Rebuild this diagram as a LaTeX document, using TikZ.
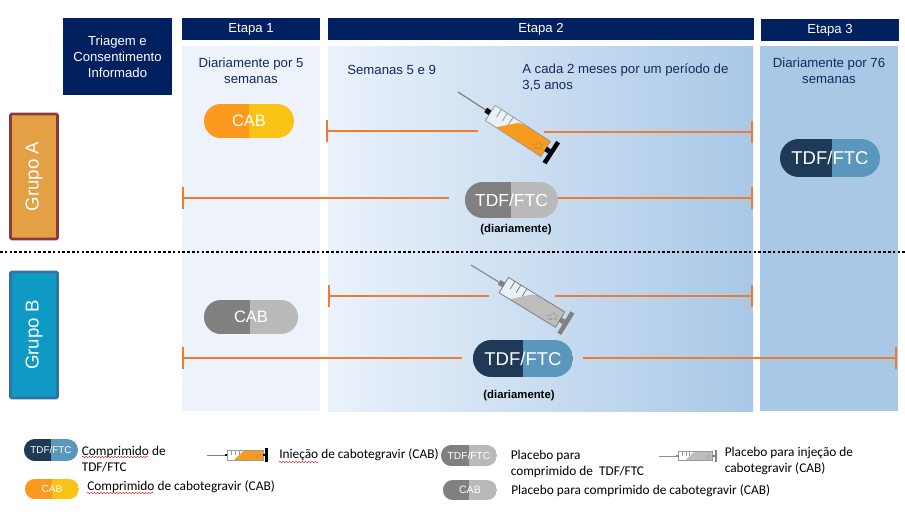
\documentclass[tikz,border=0pt]{standalone}
\usepackage{fontspec}
\setmainfont{Liberation Sans}
\newfontfamily\legfont{Carlito}
\usetikzlibrary{shapes.misc,arrows.meta,decorations.pathmorphing}
\definecolor{navy}{HTML}{002060}
\definecolor{txtnavy}{HTML}{14295F}
\definecolor{orangeline}{HTML}{ED7D31}
\definecolor{tdfdark}{HTML}{1F3A57}
\definecolor{tdflight}{HTML}{5B97BD}
\definecolor{cabdark}{HTML}{FB9A1F}
\definecolor{cablight}{HTML}{F8C315}
\definecolor{greydark}{HTML}{808080}
\definecolor{greylight}{HTML}{B9B9B9}
\definecolor{syrorange}{HTML}{F79A1E}
\definecolor{syrgrey}{HTML}{BDBDBD}
\definecolor{panelone}{HTML}{EEF3FB}
\definecolor{panelleft}{HTML}{EBF2FB}
\definecolor{panelright}{HTML}{A9C8E6}
\definecolor{grpaedge}{HTML}{8B3A3A}
\definecolor{grpafill}{HTML}{E3A045}
\definecolor{grpbedge}{HTML}{2E75A6}
\definecolor{grpbfill}{HTML}{0F9AC6}
\definecolor{edgeA}{HTML}{9A9A9A}
\definecolor{edgeB}{HTML}{7F7F7F}
\definecolor{needleA}{HTML}{808080}
\definecolor{needleB}{HTML}{8C8C8C}
\tikzset{
  hdr/.style={fill=navy,text=white,align=center,font=\fontsize{9.85}{12}\selectfont,inner sep=0pt},
  lbl/.style={text=txtnavy,align=center,font=\fontsize{9.9}{12}\selectfont,inner sep=0pt},
  lbll/.style={lbl,align=left,anchor=west},
  pill/.style n args={3}{rounded rectangle,inner sep=0pt,text=white,
    path picture={
      \fill[#2] (path picture bounding box.south west) rectangle (path picture bounding box.north east);
      \fill[#1] (path picture bounding box.south west) rectangle ([xshift=#3*0.75pt]path picture bounding box.north);
    }},
  grp/.style={line width=2.2pt,rounded corners=1pt,text=white,font=\fontsize{14}{16}\selectfont,inner sep=0pt},
  tl/.style={orangeline,line width=1.25pt},
  tlb/.style={tl,{Bar[width=16.5pt,line width=1.25pt]}-},
  tle/.style={tl,-{Bar[width=16.5pt,line width=1.25pt]}},
  leg/.style={font=\legfont\fontsize{10}{12}\selectfont,anchor=west,align=left,inner sep=0pt},
  dia/.style={font=\bfseries\fontsize{8.5}{10}\selectfont,inner sep=0pt},
  squig/.style={red!80!black,line width=.3pt,decorate,decoration={snake,amplitude=.45pt,segment length=2.4pt}},
}
% tip x, tip y, angle, scale, liquid, dark part, barrel edge, needle
\newcommand{\syr}[8]{%
\begin{scope}[shift={(#1,#2)},rotate=-#3,x=#4*0.75pt,y=-#4*0.75pt]
  \draw[#8,line width=#4*0.9pt] (0,0) -- (33,0);
  \fill[#6] (33,-2.6) rectangle (38.5,2.6);
  \fill[white,opacity=.55] (38.5,-9) rectangle (104.5,9);
  \fill[#5] (51,9) -- (67,-6.5) -- (73,-9) -- (104.5,-9) -- (104.5,9) -- cycle;
  \draw[#7,line width=#4*0.6pt] (38.5,-9) rectangle (104.5,9);
  \foreach \u in {46,53,60} \draw[#7,line width=#4*0.6pt] (\u,-9) -- (\u,0);
  \foreach \u/\v in {94/1,97/4,99/-1,95/5,100/2,92/3,96/-2} \fill[gray] (\u,\v) circle[radius=.8];
  \fill[#6] (104.5,-2.5) rectangle (109,2.5);
  \fill[#6] (109,-12.5) rectangle (113.5,12.5);
\end{scope}}
\begin{document}
\begin{tikzpicture}[x=0.75pt,y=-0.75pt]
\useasboundingbox (0,0) rectangle (905,514);
\fill[white] (0,0) rectangle (905,514);
% panels
\fill[panelone] (182,46) rectangle (320,411);
\shade[left color=panelleft,right color=panelright] (328,46) rectangle (753,411);
\fill[panelright] (760,46) rectangle (898,411);
% headers
\node[hdr,minimum width=109*0.75pt,minimum height=77*0.75pt,font=\fontsize{9.85}{12}\selectfont] (triagem) at (117.5,56.5) {Triagem e\\Consentimento\\Informado};
\node[hdr,minimum width=138*0.75pt,minimum height=22*0.75pt] (et1) at (251,29) {Etapa 1};
\node[hdr,minimum width=426*0.75pt,minimum height=22*0.75pt] (et2) at (541,29) {Etapa 2};
\node[hdr,minimum width=138*0.75pt,minimum height=22*0.75pt] (et3) at (830,30) {Etapa 3};
% labels
\node[lbl] (l1) at (251,71) {Diariamente por 5\\semanas};
\node[lbll] (l2) at (347,70) {Semanas 5 e 9};
\node[lbll] (l3) at (522,77) {A cada 2 meses por um período de\\3,5 anos};
\node[lbl] (l4) at (829,71) {Diariamente por 76\\semanas};
% groups
\node[grp,draw=grpaedge,fill=grpafill,minimum width=47*0.75pt,minimum height=125*0.75pt] (ga) at (34,176.5) {\rotatebox{90}{Grupo A}};
\node[grp,draw=grpbedge,fill=grpbfill,minimum width=47*0.75pt,minimum height=126*0.75pt] (gb) at (34,335) {\rotatebox{90}{Grupo B}};
% divider
\coordinate (dl) at (0,252); \coordinate (dr) at (905,252);
\draw[black,line width=.9pt,dash pattern=on 2pt off 1.6pt] (dl) -- (dr);
% pills
\node[pill={cabdark}{cablight}{-0.5},minimum width=90*0.75pt,minimum height=34*0.75pt,font=\fontsize{12.4}{14}\selectfont] (p1) at (249,121) {CAB};
\node[pill={greydark}{greylight}{-1},minimum width=93*0.75pt,minimum height=36*0.75pt,font=\fontsize{13.1}{15}\selectfont] (p2) at (511.5,200) {TDF/FTC};
\node[pill={tdfdark}{tdflight}{2},minimum width=100*0.75pt,minimum height=38*0.75pt,font=\fontsize{13.9}{15}\selectfont] (p3) at (830,158) {TDF/FTC};
\node[pill={greydark}{greylight}{-1},minimum width=94*0.75pt,minimum height=34*0.75pt,font=\fontsize{12.4}{14}\selectfont] (p4) at (251,317) {CAB};
\node[pill={tdfdark}{tdflight}{0},minimum width=100*0.75pt,minimum height=37*0.75pt,font=\fontsize{13.9}{15}\selectfont] (p5) at (523,358.5) {TDF/FTC};
\node[dia] (d1) at (516,230) {(diariamente)};
\node[dia] (d2) at (519,396) {(diariamente)};
% connectors
\coordinate (a1) at (326,131); \coordinate (a1e) at (478,131);
\coordinate (a2) at (544,132); \coordinate (a2e) at (753,132);
\coordinate (a3e) at (449,198); \coordinate (a3) at (182,198);
\coordinate (a4) at (558,198); \coordinate (a4e) at (753,198);
\coordinate (b1) at (328,296); \coordinate (b1e) at (489,296);
\coordinate (b2) at (555,296); \coordinate (b2e) at (753,296);
\coordinate (b3) at (182,358); \coordinate (b3e) at (462,358);
\coordinate (b4) at (583,358); \coordinate (b4e) at (897,358);
\draw[tlb] (a1) -- (a1e);
\draw[tle] (a2) -- (a2e);
\draw[tlb] (a3) -- (a3e);
\draw[tle] (a4) -- (a4e);
\draw[tlb] (b1) -- (b1e);
\draw[tle] (b2) -- (b2e);
\draw[tlb] (b3) -- (b3e);
\draw[tle] (b4) -- (b4e);
% syringes
\syr{458}{92}{33}{1}{syrorange}{black}{edgeA}{needleA}
\syr{471}{265}{31.5}{1}{syrgrey}{gray}{edgeB}{needleB}
% legend
\node[pill={tdfdark}{tdflight}{0},minimum width=54*0.75pt,minimum height=22*0.75pt,font=\fontsize{7.4}{9}\selectfont] (lp1) at (51,450) {TDF/FTC};
\node[pill={cabdark}{cablight}{0},minimum width=54*0.75pt,minimum height=20*0.75pt,font=\fontsize{7.6}{9}\selectfont] (lp2) at (52,489) {CAB};
\node[pill={greydark}{greylight}{0},minimum width=56*0.75pt,minimum height=21*0.75pt,font=\fontsize{7.7}{9}\selectfont] (lp3) at (469,455.5) {TDF/FTC};
\node[pill={greydark}{greylight}{-1},minimum width=54*0.75pt,minimum height=20*0.75pt,font=\fontsize{8}{9}\selectfont] (lp4) at (470,490) {CAB};
\syr{207}{455}{0}{0.535}{syrorange}{black}{edgeA}{needleA}
\syr{659}{456}{0}{0.51}{syrgrey}{gray}{edgeA}{needleB}
\node[leg] (t1) at (81.5,459) {Comprimido de\\TDF/FTC};
\node[leg] (t2) at (87,487) {Comprimido de cabotegravir (CAB)};
\node[leg] (t3) at (279,455) {Inieção de cabotegravir (CAB)};
\node[leg] (t4) at (510.5,464) {Placebo para\\comprimido de~ TDF/FTC};
\node[leg] (t5) at (511,491) {Placebo para comprimido de cabotegravir (CAB)};
\node[leg] (t6) at (724.5,461) {Placebo para injeção de\\cabotegravir (CAB)};
\coordinate (s1a) at (82,457); \coordinate (s1b) at (148,457);
\coordinate (s2a) at (87,493); \coordinate (s2b) at (154,493);
\coordinate (s3a) at (279,462); \coordinate (s3b) at (318,462);
\draw[squig] (s1a) -- (s1b);
\draw[squig] (s2a) -- (s2b);
\draw[squig] (s3a) -- (s3b);
\end{tikzpicture}
\end{document}
